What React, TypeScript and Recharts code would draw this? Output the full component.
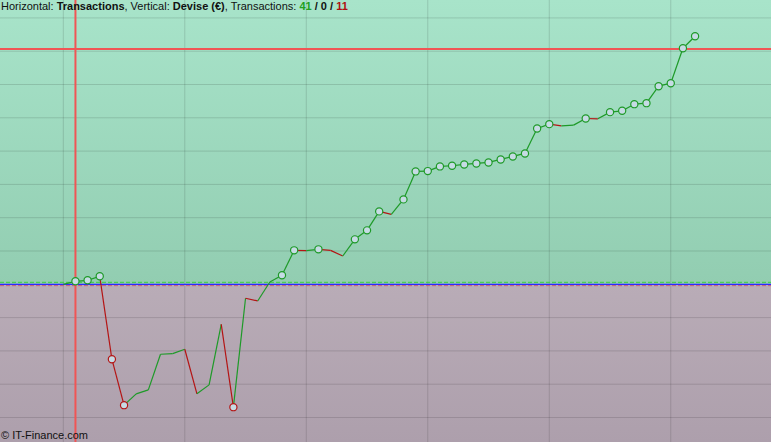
import React from 'react';
import { ComposedChart, Line, XAxis, YAxis, ReferenceLine, ReferenceArea } from 'recharts';

// equity curve after each transaction (€), index 0 = start
const equity = [
  0, 9, 12, 24, -225, -363, -329, -317, -210, -208, -195, -329, -302, -120, -369, -42, -50, 7, 27,
  102, 101, 105, 102, 85, 135, 162, 219, 210, 255, 339, 340, 354, 356, 360, 363, 366, 375, 384, 393,
  468, 481, 476, 478, 498, 497, 517, 521, 541, 544, 595, 604, 709, 745,
];
const xGrid = [0, 10, 20, 30, 40, 50];
const yGrid = [-400, -300, -200, -100, 100, 200, 300, 400, 500, 600, 700, 800];
const targetLevel = 707;
const markerTx = 1;

const W = 771;
const H = 442;
const GREEN = '#1e9a28';
const RED = '#b41414';

// new highs / new lows get a marker
let hi = 0;
let lo = 0;
const data = equity.map((v, i) => {
  let mark = '';
  if (i > 0 && v > hi) { mark = 'hi'; hi = v; }
  if (i > 0 && v < lo) { mark = 'lo'; lo = v; }
  return { i, v, mark };
});

const segments = equity.slice(1).map((v, k) => ({ a: k, b: k + 1, ya: equity[k], yb: v, up: v > equity[k] }));
const wins = segments.filter((s) => s.yb > s.ya).length;
const flat = segments.filter((s) => s.yb === s.ya).length;
const losses = segments.filter((s) => s.yb < s.ya).length;

const renderDot = (props: any) => {
  const { cx, cy, index, payload } = props;
  if (!payload || !payload.mark) return <g key={`d-${index}`} />;
  return (
    <circle
      key={`d-${index}`}
      cx={cx}
      cy={cy}
      r={3.6}
      fill="#c6dbe4"
      stroke={payload.mark === 'hi' ? GREEN : RED}
      strokeWidth={1.2}
    />
  );
};

export default function App() {
  return (
    <div style={{ position: 'absolute', left: 0, top: 0, width: W, height: H, fontFamily: '"Liberation Sans", Arial, sans-serif' }}>
      <ComposedChart width={W} height={H} data={data} margin={{ top: 0, right: 0, bottom: 0, left: 0 }}>
        <defs>
          <linearGradient id="topBg" x1="0" y1="0" x2="0" y2="1">
            <stop offset="0%" stopColor="#a8e4ca" />
            <stop offset="100%" stopColor="#92cdb1" />
          </linearGradient>
          <linearGradient id="botBg" x1="0" y1="0" x2="0" y2="1">
            <stop offset="0%" stopColor="#b9acb7" />
            <stop offset="100%" stopColor="#ad9fac" />
          </linearGradient>
        </defs>
        <XAxis dataKey="i" type="number" domain={[-5.21, 58.25]} hide allowDataOverflow />
        <YAxis type="number" domain={[-473.6, 853.8]} hide allowDataOverflow />
        <ReferenceArea y1={0} y2={853.8} fill="url(#topBg)" fillOpacity={1} stroke="none" />
        <ReferenceArea y1={-473.6} y2={0} fill="url(#botBg)" fillOpacity={1} stroke="none" />
        {xGrid.map((x) => (
          <ReferenceLine key={`gx-${x}`} x={x} stroke="#000" strokeOpacity={0.13} strokeWidth={1} />
        ))}
        {yGrid.map((y) => (
          <ReferenceLine key={`gy-${y}`} y={y} stroke="#000" strokeOpacity={0.13} strokeWidth={1} />
        ))}
        <ReferenceLine y={6} stroke="#3ccf3c" strokeDasharray="4 2" strokeWidth={1} />
        <ReferenceLine y={-4} stroke="#c85a78" strokeDasharray="4 2" strokeWidth={1} />
        <ReferenceLine y={0} stroke="#2b2bff" strokeWidth={1.2} />
        {segments.map((s) => (
          <ReferenceLine
            key={`s-${s.a}`}
            segment={[{ x: s.a, y: s.ya }, { x: s.b, y: s.yb }]}
            stroke={s.up ? GREEN : RED}
            strokeWidth={1.2}
            ifOverflow="visible"
          />
        ))}
        <ReferenceLine x={markerTx} stroke="#f05555" strokeWidth={2} />
        <ReferenceLine y={targetLevel} stroke="#f05555" strokeWidth={2} />
        <Line
          dataKey="v"
          stroke="none"
          dot={renderDot}
          activeDot={false}
          isAnimationActive={false}
        />
      </ComposedChart>
      <div style={{ position: 'absolute', left: 1, top: 0, fontSize: 11, lineHeight: '13px', color: '#111', whiteSpace: 'nowrap' }}>
        Horizontal: <b>Transactions</b>, Vertical: <b>Devise (€)</b>, Transactions:{' '}
        <b style={{ color: '#22a01e' }}>{wins}</b> <b>/</b> <b>{flat}</b> <b>/</b>{' '}
        <b style={{ color: '#b01010' }}>{losses}</b>
      </div>
      <div style={{ position: 'absolute', left: 1, top: 429, fontSize: 11, lineHeight: '13px', color: '#111', whiteSpace: 'nowrap' }}>
        © IT-Finance.com
      </div>
    </div>
  );
}
